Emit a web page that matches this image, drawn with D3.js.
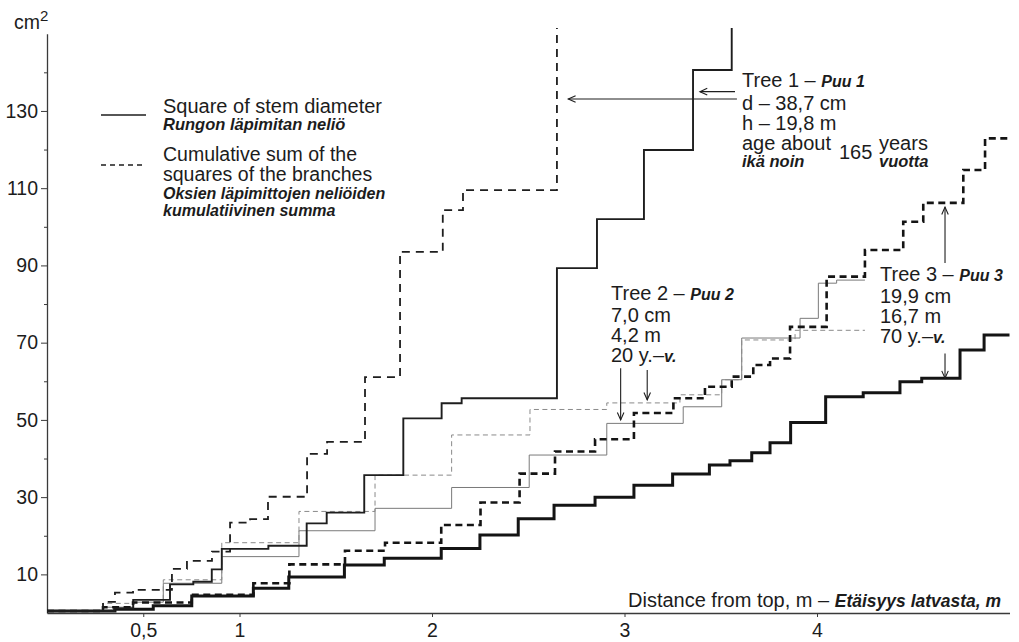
<!DOCTYPE html>
<html>
<head>
<meta charset="utf-8">
<script src="https://cdn.jsdelivr.net/npm/d3@7/dist/d3.min.js"></script>
<style>
  html, body { margin: 0; padding: 0; background: #fff; }
  svg { display: block; }
  text { font-family: "Liberation Sans", Arial, Helvetica, sans-serif; fill: #1c1c1c; }
  .bi { font-weight: bold; font-style: italic; }
</style>
</head>
<body>
<svg id="chart" width="1019" height="642"></svg>
<script>
// Step profiles: [distance from top (m), value (cm²)].
// Each value holds from its distance until the next one.

// Tree 1 (d 38,7 cm, h 19,8 m)
const tree1Stem = [
  [0, 0.5], [0.35, 1.2], [0.448, 3.4], [0.639, 7.4], [0.76, 8.1], [0.856, 11.3],
  [0.908, 16.6], [1.15, 17.4], [1.349, 23.2], [1.453, 26.0], [1.648, 35.7],
  [1.851, 50.4], [2.05, 54.3], [2.154, 55.6], [2.649, 89.3], [2.857, 102.0],
  [3.101, 119.9], [3.356, 140.6], [3.557, 151.5]
];
const tree1Branches = [
  [0, 0.5], [0.291, 2.9], [0.353, 5.3], [0.447, 6.0], [0.649, 11.4], [0.727, 13.5],
  [0.857, 15.9], [0.951, 23.4], [1.055, 24.3], [1.148, 30.1], [1.351, 41.2],
  [1.455, 44.3], [1.652, 61.1], [1.834, 93.5], [2.056, 104.3], [2.161, 109.5],
  [2.649, 151.5]
];

// Tree 2 (7,0 cm, 4,2 m)
const tree2Stem = [
  [0, 0.5], [0.291, 1.5], [0.447, 2.8], [0.604, 7.7], [0.908, 14.6], [1.309, 21.3],
  [1.704, 27.1], [2.102, 32.5], [2.505, 40.9], [2.908, 49.1], [3.305, 53.4],
  [3.505, 60.4], [3.609, 71.2], [3.912, 76.3], [4.007, 85.4], [4.102, 86.2],
  [4.249, 86.2]
];
const tree2Branches = [
  [0, 0.5], [0.291, 2.5], [0.447, 3.5], [0.604, 8.6], [0.908, 18.2], [1.309, 26.3],
  [1.704, 35.7], [2.102, 46.1], [2.509, 52.7], [2.908, 54.4], [3.288, 56.5],
  [3.505, 60.4], [3.609, 70.7], [3.886, 73.2], [4.249, 73.2]
];

// Tree 3 (19,9 cm, 16,7 m)
const tree3Stem = [
  [0, 0.5], [0.353, 1.0], [0.552, 1.9], [0.752, 4.4], [1.072, 6.4], [1.256, 9.3],
  [1.545, 12.4], [1.752, 14.2], [2.048, 16.7], [2.249, 20.2], [2.448, 24.4],
  [2.634, 27.9], [2.847, 30.0], [3.049, 33.1], [3.25, 36.0], [3.441, 38.3],
  [3.548, 39.4], [3.661, 41.5], [3.756, 44.1], [3.863, 49.3], [4.045, 56.0],
  [4.24, 57.0], [4.431, 59.9], [4.544, 60.8], [4.743, 68.1], [4.868, 72.0],
  [5.0, 72.0]
];
const tree3Branches = [
  [0, 0.5], [0.291, 1.5], [0.447, 2.7], [0.752, 4.7], [1.072, 7.7], [1.259, 12.6],
  [1.548, 16.1], [1.756, 18.2], [2.048, 22.8], [2.252, 28.6], [2.455, 36.1],
  [2.639, 41.8], [2.847, 45.0], [3.049, 51.8], [3.254, 55.6], [3.418, 58.6],
  [3.557, 61.2], [3.669, 64.2], [3.756, 65.9], [3.86, 74.1], [4.05, 87.1],
  [4.249, 94.0], [4.448, 101.3], [4.552, 106.2], [4.76, 114.7], [4.873, 122.9],
  [5.0, 122.9]
];

// Axis ticks
const xTicks = [0.5, 1, 2, 3, 4];
const yTicks = [10, 20, 30, 40, 50, 60, 70, 80, 90, 100, 110, 120, 130, 140];
const yLabelled = [10, 30, 50, 70, 90, 110, 130];

// Pointer arrows, in data units: [x1, y1, x2, y2] (head at the second point)
const arrowTree1 = [[3.584, 133.1, 2.708, 133.1], [3.574, 135.0, 3.392, 135.0]];
const arrowTree2 = [[2.980, 63.4, 2.980, 50.0], [3.118, 62.9, 3.118, 55.2]];
const arrowTree3 = [[4.665, 90.6, 4.665, 105.1], [4.665, 67.2, 4.665, 60.8]];

const svg = d3.select("#chart");

const x = d3.scaleLinear().domain([0, 5]).range([47, 1009.5]);
const y = d3.scaleLinear().domain([0, 150]).range([613, 613 - 150 * 3.862]);

// Axes
const xAxis = d3.axisBottom(x)
  .tickValues(xTicks)
  .tickFormat(d => String(d).replace(".", ","))
  .tickSize(4).tickSizeOuter(0).tickPadding(6);
const gx = svg.append("g").attr("transform", `translate(0,${y(0)})`).call(xAxis);
gx.select(".domain").attr("stroke", "#3a3a3a").attr("stroke-width", 1.3);
gx.selectAll(".tick line").attr("stroke", "#3a3a3a");
gx.selectAll(".tick text").attr("font-size", 19.5).attr("fill", "#1c1c1c")
  .attr("font-family", "Liberation Sans, Arial, sans-serif");

const yAxis = d3.axisLeft(y)
  .tickValues(yTicks)
  .tickFormat(d => yLabelled.includes(d) ? d : "")
  .tickSize(6).tickSizeOuter(0).tickPadding(3);
const gy = svg.append("g").attr("transform", `translate(${x(0)},0)`).call(yAxis);
gy.select(".domain").attr("stroke", "#3a3a3a").attr("stroke-width", 1.3);
gy.selectAll(".tick line").attr("stroke", "#3a3a3a")
  .attr("x2", d => yLabelled.includes(d) ? -6 : -3);
gy.selectAll(".tick text").attr("font-size", 19.5).attr("fill", "#1c1c1c")
  .attr("font-family", "Liberation Sans, Arial, sans-serif");

// Unit label
const unit = svg.append("text").attr("x", 14).attr("y", 29).attr("font-size", 19.5);
unit.append("tspan").text("cm");
unit.append("tspan").attr("dy", -8).attr("font-size", 15).text("2");

// Step curves
const step = d3.line().x(d => x(d[0])).y(d => y(d[1])).curve(d3.curveStepAfter);

const series = [
  { data: tree2Stem, width: 1.0, color: "#7a7a7a", dash: null },
  { data: tree2Branches, width: 1.0, color: "#8a8a8a", dash: "5,3.5" },
  { data: tree3Stem, width: 3.0, color: "#141414", dash: null },
  { data: tree3Branches, width: 2.6, color: "#141414", dash: "7,4.5" },
  { data: tree1Stem, width: 1.9, color: "#1e1e1e", dash: null },
  { data: tree1Branches, width: 1.8, color: "#1e1e1e", dash: "8,6" }
];

svg.append("g").selectAll("path").data(series).join("path")
  .attr("d", s => step(s.data))
  .attr("fill", "none")
  .attr("stroke", s => s.color)
  .attr("stroke-width", s => s.width)
  .attr("stroke-dasharray", s => s.dash)
  .attr("stroke-linejoin", "miter");

// Multi-line text block: one <text>, each line starts a new positioned run
function textBlock(g, x0, lines) {
  const t = g.append("text");
  lines.forEach(l => {
    l.parts.forEach((p, i) => {
      const ts = t.append("tspan").text(p.t).attr("font-size", p.size || 20);
      if (i === 0) ts.attr("x", l.x != null ? l.x : x0).attr("y", l.y);
      if (p.bi) ts.attr("class", "bi");
    });
  });
  return t;
}

// Legend
const legend = svg.append("g");
legend.append("line").attr("x1", 101).attr("x2", 146).attr("y1", 115).attr("y2", 115)
  .attr("stroke", "#1e1e1e").attr("stroke-width", 1.5);
legend.append("line").attr("x1", 101).attr("x2", 146).attr("y1", 165).attr("y2", 165)
  .attr("stroke", "#1e1e1e").attr("stroke-width", 1.5).attr("stroke-dasharray", "5,4");

textBlock(legend, 163, [
  { y: 113, parts: [{ t: "Square of stem diameter", size: 20 }] },
  { y: 130, parts: [{ t: "Rungon läpimitan neliö", bi: true, size: 16.5 }] }
]);
textBlock(legend, 163, [
  { y: 161, parts: [{ t: "Cumulative sum of the", size: 19.5 }] },
  { y: 181, parts: [{ t: "squares of the branches", size: 19.5 }] },
  { y: 199, parts: [{ t: "Oksien läpimittojen neliöiden", bi: true, size: 16 }] },
  { y: 216, parts: [{ t: "kumulatiivinen summa", bi: true, size: 16 }] }
]);

// Tree labels
const notes = svg.append("g");
textBlock(notes, 742, [
  { y: 87, parts: [{ t: "Tree 1 \u2013 ", size: 20 }, { t: "Puu 1", bi: true, size: 16 }] },
  { y: 110, parts: [{ t: "d \u2013 38,7 cm", size: 20 }] },
  { y: 130, parts: [{ t: "h \u2013 19,8 m", size: 20 }] },
  { y: 150, parts: [{ t: "age about", size: 20 }] },
  { y: 167, parts: [{ t: "ikä noin", bi: true, size: 16.5 }] }
]);
textBlock(notes, 839, [{ y: 159, parts: [{ t: "165", size: 20 }] }]);
textBlock(notes, 879, [
  { y: 150, parts: [{ t: "years", size: 20 }] },
  { y: 167, parts: [{ t: "vuotta", bi: true, size: 16.5 }] }
]);
textBlock(notes, 611, [
  { y: 300, parts: [{ t: "Tree 2 \u2013 ", size: 20 }, { t: "Puu 2", bi: true, size: 16 }] },
  { y: 322, parts: [{ t: "7,0 cm", size: 20 }] },
  { y: 342, parts: [{ t: "4,2 m", size: 20 }] },
  { y: 362, parts: [{ t: "20 y.\u2013", size: 20 }, { t: "v.", bi: true, size: 16 }] }
]);
textBlock(notes, 880, [
  { y: 281, parts: [{ t: "Tree 3 \u2013 ", size: 20 }, { t: "Puu 3", bi: true, size: 16 }] },
  { y: 303, parts: [{ t: "19,9 cm", size: 20 }] },
  { y: 323, parts: [{ t: "16,7 m", size: 20 }] },
  { y: 343, parts: [{ t: "70 y.\u2013", size: 20 }, { t: "v.", bi: true, size: 16 }] }
]);

// Axis title
textBlock(svg, 628, [
  { y: 607, parts: [{ t: "Distance from top, m \u2013 ", size: 20 }, { t: "Etäisyys latvasta, m", bi: true, size: 17.5 }] }
]);

// Arrows
function arrow(g, a) {
  const [x1, y1, x2, y2] = [x(a[0]), y(a[1]), x(a[2]), y(a[3])];
  const ang = Math.atan2(y2 - y1, x2 - x1);
  const len = 8, spread = 0.42;
  g.append("line").attr("x1", x1).attr("y1", y1).attr("x2", x2).attr("y2", y2)
    .attr("stroke", "#1e1e1e").attr("stroke-width", 1.1);
  const p1 = [x2 - len * Math.cos(ang - spread), y2 - len * Math.sin(ang - spread)];
  const p2 = [x2 - len * Math.cos(ang + spread), y2 - len * Math.sin(ang + spread)];
  g.append("path").attr("d", `M${p1[0]},${p1[1]}L${x2},${y2}L${p2[0]},${p2[1]}`)
    .attr("fill", "none").attr("stroke", "#1e1e1e").attr("stroke-width", 1.1);
}
const arrows = svg.append("g");
[...arrowTree1, ...arrowTree2, ...arrowTree3].forEach(a => arrow(arrows, a));
</script>
</body>
</html>
